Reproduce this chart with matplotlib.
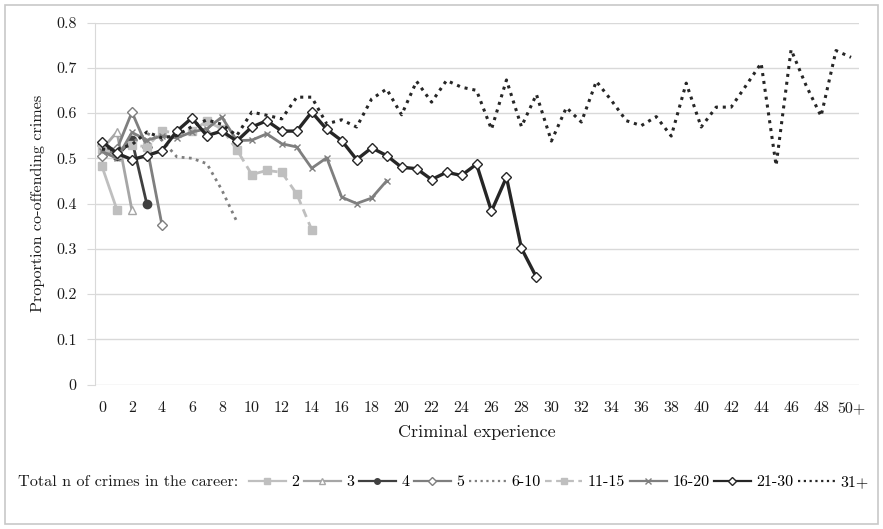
import matplotlib
matplotlib.use("Agg")
import matplotlib.pyplot as plt
from matplotlib.patches import Rectangle

plt.rcParams['font.family'] = ['cmr10', 'DejaVu Serif']
plt.rcParams['axes.formatter.use_mathtext'] = True

x_labels = [str(i) for i in range(0, 50, 2)] + ["50+"]
y_ticks = [0, 0.1, 0.2, 0.3, 0.4, 0.5, 0.6, 0.7, 0.8]
y_tick_labels = ["0", "0.1", "0.2", "0.3", "0.4", "0.5", "0.6", "0.7", "0.8"]

s2 = [0.482, 0.386]
s3 = [0.52, 0.558, 0.385]
s4 = [0.53, 0.505, 0.54, 0.398]
s5 = [0.505, 0.52, 0.602, 0.525, 0.353]
s6_10 = [0.52, 0.515, 0.535, 0.555, 0.54, 0.503, 0.50, 0.488, 0.43, 0.36]
s11_15 = [0.52, 0.51, 0.53, 0.525, 0.561, 0.555, 0.56, 0.582, 0.565, 0.519,
          0.464, 0.473, 0.469, 0.421, 0.342]
s16_20 = [0.515, 0.50, 0.557, 0.54, 0.549, 0.545, 0.558, 0.565, 0.591, 0.539,
          0.54, 0.554, 0.532, 0.525, 0.478, 0.501, 0.414, 0.40, 0.412, 0.45]
s21_30 = [0.537, 0.511, 0.497, 0.506, 0.517, 0.56, 0.589, 0.55, 0.56, 0.538,
          0.569, 0.583, 0.56, 0.56, 0.602, 0.564, 0.539, 0.497, 0.523, 0.506,
          0.48, 0.477, 0.453, 0.469, 0.462, 0.487, 0.383, 0.458, 0.301, 0.237]
s31 = [0.52, 0.52, 0.53, 0.558, 0.545, 0.55, 0.57, 0.585, 0.575, 0.55,
       0.602, 0.595, 0.587, 0.635, 0.635, 0.576, 0.585, 0.569, 0.631, 0.653,
       0.596, 0.67, 0.624, 0.672, 0.657, 0.65, 0.564, 0.673, 0.57, 0.641,
       0.538, 0.612, 0.58, 0.67, 0.628, 0.583, 0.572, 0.592, 0.549, 0.666,
       0.569, 0.613, 0.613, 0.661, 0.710, 0.484, 0.740, 0.661, 0.593, 0.738,
       0.723]

W, H = 883, 529
fig = plt.figure(figsize=(W / 100, H / 100), dpi=100)
fig.patches.append(Rectangle((5 / W, 5 / H), 1 - 10 / W, 1 - 10 / H,
                             transform=fig.transFigure, fill=False,
                             edgecolor='#c8c8c8', linewidth=1.2))

ax_l, ax_r, ax_t, ax_b = 94.5, 858.5, 22.5, 384.5
ax = fig.add_axes([ax_l / W, 1 - ax_b / H, (ax_r - ax_l) / W, (ax_b - ax_t) / H])

series = [
    ("2", s2, dict(color='#bfbfbf', linestyle='-', linewidth=2, marker='s',
                   markersize=5.5, markerfacecolor='#bfbfbf', markeredgecolor='#bfbfbf')),
    ("3", s3, dict(color='#a6a6a6', linestyle='-', linewidth=2, marker='^',
                   markersize=6, markerfacecolor='white', markeredgecolor='#a6a6a6')),
    ("4", s4, dict(color='#404040', linestyle='-', linewidth=2, marker='o',
                   markersize=6, markerfacecolor='#404040', markeredgecolor='#404040')),
    ("5", s5, dict(color='#7f7f7f', linestyle='-', linewidth=2, marker='D',
                   markersize=5, markerfacecolor='white', markeredgecolor='#7f7f7f')),
    ("6-10", s6_10, dict(color='#7f7f7f', linestyle=(0, (1, 1.6)), linewidth=2)),
    ("11-15", s11_15, dict(color='#bfbfbf', linestyle=(0, (3, 2)), linewidth=2, marker='s',
                           markersize=5.5, markerfacecolor='#bfbfbf', markeredgecolor='#bfbfbf')),
    ("16-20", s16_20, dict(color='#7f7f7f', linestyle='-', linewidth=2, marker='x',
                           markersize=5, markeredgecolor='#7f7f7f', markeredgewidth=1)),
    ("21-30", s21_30, dict(color='#262626', linestyle='-', linewidth=2.4, marker='D',
                           markersize=5, markerfacecolor='white', markeredgecolor='#262626',
                           markeredgewidth=1)),
    ("31+", s31, dict(color='#262626', linestyle=(0, (1, 1.6)), linewidth=2.2)),
]

handles = []
for name, vals, style in series:
    xs = list(range(len(vals)))
    ln, = ax.plot(xs, vals, label=name, zorder=3, **style)
    handles.append(ln)

ax.set_xlim(-0.5, 50.5)
ax.set_ylim(0, 0.8)
ax.set_yticks(y_ticks)
ax.set_yticklabels(y_tick_labels)
ax.set_xticks(list(range(0, 51, 2)))
ax.set_xticklabels(x_labels)
ax.grid(axis='y', color='#d9d9d9', linewidth=1)
ax.set_axisbelow(True)
for s in ['top', 'right', 'bottom']:
    ax.spines[s].set_visible(False)
ax.spines['left'].set_color('#d9d9d9')
ax.tick_params(axis='y', length=6, color='#d9d9d9', pad=7, labelsize=11.5,
               labelcolor='#1a1a1a')
ax.tick_params(axis='x', length=0, pad=12, labelsize=11.5, labelcolor='#1a1a1a')
ax.set_ylabel("Proportion co-offending crimes", fontsize=11.7, labelpad=8, color='#1a1a1a')
ax.set_xlabel("Criminal experience", fontsize=13, labelpad=7, color='#1a1a1a')

fig.text(18 / W, 1 - 482 / H, "Total n of crimes in the career:", fontsize=11.7,
         va='center', ha='left', color='#1a1a1a')
leg = fig.legend(handles=handles, loc='center left', bbox_to_anchor=(249 / W, 1 - 482 / H),
                 ncol=9, frameon=False, fontsize=11.5, handlelength=2.3, handletextpad=0.35,
                 columnspacing=0.3, borderpad=0, borderaxespad=0)
for h in leg.legend_handles:
    h.set_markersize(4)
    h.set_linewidth(1.6)

fig.savefig("out.png", dpi=100)
